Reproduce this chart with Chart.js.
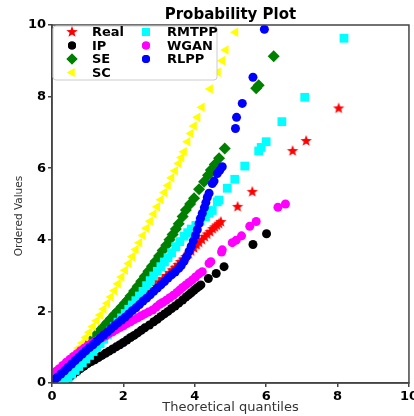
<!DOCTYPE html>
<html>
<head>
<meta charset="utf-8">
<script src="https://cdn.jsdelivr.net/npm/chart.js@4.4.1/dist/chart.umd.min.js"></script>
<style>
  html, body { margin: 0; padding: 0; background: #fff; overflow: hidden; width: 414px; height: 416px; }
  canvas { display: block; }
</style>
</head>
<body>
<canvas id="qq" width="420" height="416"></canvas>
<script>
/* Punkty wykresu kwantyl-kwantyl: [kwantyl teoretyczny, wartość uporządkowana] */
var realPts = [[0.05,0.03],[0.2,0.15],[0.35,0.3],[0.5,0.45],[0.65,0.6],[0.8,0.75],[0.95,0.89],[1.1,1.02],[1.25,1.16],[1.4,1.3],[1.55,1.45],[1.7,1.6],[1.85,1.74],[2.0,1.88],[2.15,2.02],[2.3,2.15],[2.45,2.3],[2.6,2.45],[2.75,2.58],[2.9,2.72],[3.0,2.82],[3.1,2.9],[3.2,2.99],[3.29,3.07],[3.37,3.15],[3.45,3.22],[3.53,3.3],[3.6,3.38],[3.68,3.45],[3.75,3.52],[3.83,3.6],[3.9,3.68],[3.98,3.77],[4.05,3.85],[4.12,3.92],[4.2,4.0],[4.28,4.08],[4.35,4.15],[4.43,4.22],[4.5,4.3],[4.56,4.35],[4.62,4.4],[4.68,4.45],[4.73,4.5],[5.20,4.92],[5.61,5.34],[6.74,6.48],[7.12,6.76],[8.03,7.67]];

var ipPts = [[0.25,0.0],[0.32,0.04],[0.4,0.1],[0.5,0.17],[0.6,0.25],[0.7,0.32],[0.8,0.4],[0.9,0.47],[1.0,0.54],[1.1,0.6],[1.2,0.65],[1.3,0.71],[1.4,0.77],[1.5,0.83],[1.6,0.89],[1.7,0.95],[1.8,1.01],[1.9,1.07],[2.0,1.13],[2.1,1.2],[2.2,1.27],[2.3,1.33],[2.4,1.4],[2.5,1.47],[2.6,1.54],[2.73,1.62],[2.85,1.71],[2.95,1.78],[3.05,1.86],[3.15,1.93],[3.25,2.0],[3.35,2.08],[3.45,2.15],[3.55,2.23],[3.66,2.32],[3.75,2.4],[3.83,2.46],[3.9,2.52],[3.98,2.59],[4.05,2.65],[4.12,2.7],[4.17,2.74],[4.38,2.92],[4.60,3.06],[4.82,3.25],[5.63,3.87],[6.01,4.17]];

var sePts = [[0.05,0.05],[0.15,0.15],[0.25,0.26],[0.35,0.37],[0.45,0.48],[0.55,0.58],[0.65,0.69],[0.75,0.8],[0.85,0.91],[0.95,1.02],[1.05,1.13],[1.15,1.24],[1.25,1.36],[1.35,1.47],[1.45,1.58],[1.55,1.69],[1.65,1.8],[1.75,1.91],[1.85,2.02],[1.95,2.13],[2.05,2.24],[2.12,2.32],[2.2,2.43],[2.3,2.57],[2.4,2.7],[2.5,2.84],[2.6,2.98],[2.7,3.12],[2.8,3.26],[2.9,3.4],[3.0,3.55],[3.1,3.7],[3.2,3.85],[3.29,4.0],[3.38,4.15],[3.47,4.3],[3.55,4.45],[3.66,4.65],[3.75,4.83],[3.87,5.0],[3.98,5.16],[4.12,5.41],[4.26,5.62],[4.37,5.8],[4.45,5.95],[4.56,6.1],[4.68,6.28],[4.84,6.55],[5.72,8.23],[5.79,8.32],[6.21,9.13]];

var scPts = [[0.05,0.05],[0.15,0.17],[0.25,0.29],[0.35,0.42],[0.45,0.55],[0.55,0.69],[0.65,0.83],[0.75,0.98],[0.85,1.12],[0.95,1.27],[1.05,1.42],[1.15,1.58],[1.25,1.74],[1.35,1.9],[1.45,2.07],[1.55,2.23],[1.65,2.4],[1.75,2.58],[1.85,2.77],[1.95,2.96],[2.05,3.15],[2.15,3.34],[2.25,3.53],[2.35,3.73],[2.45,3.92],[2.55,4.12],[2.65,4.32],[2.75,4.52],[2.85,4.72],[2.95,4.92],[3.05,5.12],[3.15,5.32],[3.25,5.52],[3.35,5.73],[3.45,5.93],[3.55,6.13],[3.63,6.3],[3.70,6.46],[3.80,6.74],[3.89,6.97],[3.98,7.18],[4.08,7.42],[4.20,7.70],[4.43,8.21],[4.65,8.68],[4.77,9.0],[4.87,9.30],[5.14,9.80]];

var rmtppPts = [[0.28,0.0],[0.35,0.06],[0.45,0.15],[0.55,0.25],[0.65,0.35],[0.75,0.46],[0.85,0.56],[0.95,0.67],[1.05,0.77],[1.15,0.88],[1.25,0.99],[1.35,1.1],[1.45,1.22],[1.55,1.34],[1.65,1.46],[1.75,1.58],[1.85,1.7],[1.95,1.82],[2.05,1.94],[2.15,2.06],[2.25,2.18],[2.35,2.3],[2.45,2.43],[2.55,2.56],[2.65,2.72],[2.75,2.86],[2.85,2.99],[2.95,3.12],[3.05,3.25],[3.15,3.38],[3.25,3.5],[3.35,3.64],[3.47,3.81],[3.58,3.95],[3.7,4.1],[3.8,4.2],[3.9,4.3],[4.03,4.4],[4.15,4.52],[4.3,4.64],[4.40,4.74],[4.49,4.82],[4.63,5.06],[4.68,5.11],[4.91,5.44],[5.12,5.69],[5.40,6.06],[5.79,6.48],[5.86,6.58],[6.0,6.74],[6.44,7.30],[7.08,7.98],[8.18,9.63]];

var wganPts = [[0.0,0.15],[0.05,0.25],[0.12,0.33],[0.2,0.4],[0.3,0.49],[0.4,0.58],[0.5,0.66],[0.6,0.74],[0.7,0.82],[0.8,0.9],[0.9,0.97],[1.0,1.04],[1.1,1.1],[1.2,1.16],[1.3,1.21],[1.4,1.27],[1.5,1.32],[1.6,1.38],[1.7,1.43],[1.8,1.49],[1.9,1.55],[2.0,1.6],[2.1,1.66],[2.2,1.71],[2.3,1.77],[2.4,1.82],[2.5,1.88],[2.6,1.93],[2.7,1.98],[2.82,2.04],[2.92,2.12],[3.02,2.2],[3.1,2.25],[3.2,2.31],[3.3,2.38],[3.4,2.45],[3.5,2.53],[3.58,2.6],[3.66,2.67],[3.75,2.74],[3.84,2.81],[3.93,2.88],[4.02,2.96],[4.12,3.05],[4.21,3.11],[4.40,3.34],[4.45,3.39],[4.75,3.66],[4.77,3.72],[5.05,3.92],[5.16,3.99],[5.31,4.11],[5.54,4.38],[5.72,4.51],[6.33,4.91],[6.54,5.0]];

var rlppPts = [[0.0,0.05],[0.08,0.1],[0.15,0.16],[0.25,0.25],[0.35,0.34],[0.45,0.44],[0.55,0.53],[0.65,0.63],[0.75,0.72],[0.85,0.81],[0.95,0.9],[1.05,0.99],[1.15,1.07],[1.25,1.16],[1.35,1.25],[1.45,1.34],[1.55,1.42],[1.65,1.51],[1.75,1.6],[1.85,1.68],[1.95,1.76],[2.05,1.84],[2.15,1.93],[2.25,2.02],[2.35,2.1],[2.45,2.19],[2.55,2.29],[2.65,2.37],[2.75,2.46],[2.85,2.56],[2.95,2.65],[3.05,2.74],[3.15,2.83],[3.25,2.93],[3.35,3.02],[3.45,3.1],[3.55,3.2],[3.62,3.28],[3.7,3.4],[3.77,3.53],[3.84,3.68],[3.9,3.82],[3.96,3.97],[4.02,4.12],[4.07,4.28],[4.12,4.45],[4.16,4.6],[4.21,4.74],[4.27,4.9],[4.31,5.04],[4.35,5.18],[4.40,5.3],[4.49,5.57],[4.54,5.64],[4.63,5.85],[4.7,5.94],[4.77,6.04],[5.14,7.11],[5.17,7.42],[5.33,7.81],[5.63,8.54],[5.95,9.88]];

var axisTicks = [0, 2, 4, 6, 8, 10];
var titleText = 'Probability Plot';
var xTitle = 'Theoretical quantiles';
var yTitle = 'Ordered Values';

/* Gwiazdka jak w matplotlib (wypełniona, 5 ramion) */
var makeStar = function (color, r) {
    var c = document.createElement('canvas');
    c.width = 2 * r + 2;
    c.height = 2 * r + 2;
    var g = c.getContext('2d');
    g.fillStyle = color;
    g.beginPath();
    for (var i = 0; i < 10; i++) {
        var rad = i % 2 === 0 ? r : r * 0.42;
        var a = -Math.PI / 2 + i * Math.PI / 5;
        var px = r + 1 + rad * Math.cos(a);
        var py = r + 1 + rad * Math.sin(a);
        if (i === 0) g.moveTo(px, py); else g.lineTo(px, py);
    }
    g.closePath();
    g.fill();
    return c;
};
var starImg = makeStar('#ff0000', 6);

var toXY = function (arr) {
    return arr.map(function (p) { return { x: p[0], y: p[1] }; });
};

var series = [
    { label: 'Real',  data: realPts,  color: '#ff0000', style: starImg,   radius: 5.5, rotation: 0,   order: 6 },
    { label: 'IP',    data: ipPts,    color: '#000000', style: 'circle',  radius: 4.5, rotation: 0,   order: 5 },
    { label: 'SE',    data: sePts,    color: '#008000', style: 'rectRot', radius: 6,   rotation: 0,   order: 4 },
    { label: 'SC',    data: scPts,    color: '#ffff00', style: 'triangle',radius: 5.5, rotation: -90, order: 3 },
    { label: 'RMTPP', data: rmtppPts, color: '#00ffff', style: 'rect',    radius: 6.2, rotation: 0,   order: 2 },
    { label: 'WGAN',  data: wganPts,  color: '#ff00ff', style: 'circle',  radius: 4.5, rotation: 0,   order: 1 },
    { label: 'RLPP',  data: rlppPts,  color: '#0000ff', style: 'circle',  radius: 4.5, rotation: 0,   order: 0 }
];

/* Ramka, tytuły osi, tytuł i legenda rysowane ręcznie */
var decorations = {
    id: 'decorations',
    afterDraw: function (chart) {
        var ctx = chart.ctx;
        var a = chart.chartArea;
        ctx.save();
        ctx.strokeStyle = '#444';
        ctx.lineWidth = 1.5;
        ctx.strokeRect(a.left, a.top, a.right - a.left, a.bottom - a.top);

        ctx.fillStyle = '#000';
        ctx.font = 'bold 15px "DejaVu Sans"';
        ctx.textAlign = 'center';
        ctx.textBaseline = 'middle';
        ctx.fillText(titleText, (a.left + a.right) / 2, 15);

        ctx.fillStyle = '#333';
        ctx.font = '13px "DejaVu Sans"';
        ctx.fillText(xTitle, (a.left + a.right) / 2, 408);

        ctx.save();
        ctx.translate(19, 216);
        ctx.rotate(-Math.PI / 2);
        ctx.font = '10.5px "DejaVu Sans"';
        ctx.fillText(yTitle, 0, 0);
        ctx.restore();

        // legenda
        var lx = a.left + 1, ly = a.top + 1, lw = 164, lh = 54;
        ctx.fillStyle = 'rgba(255,255,255,0.85)';
        ctx.strokeStyle = '#cccccc';
        ctx.lineWidth = 1;
        ctx.beginPath();
        ctx.roundRect(lx, ly, lw, lh, 3);
        ctx.fill();
        ctx.stroke();

        var rows = [32, 45.5, 59, 72.5];
        var slots = [[0, 0], [0, 1], [0, 2], [0, 3], [1, 0], [1, 1], [1, 2]];
        ctx.font = 'bold 13px "DejaVu Sans"';
        ctx.textAlign = 'left';
        series.forEach(function (s, i) {
            var col = slots[i][0], row = slots[i][1];
            var mx = col === 0 ? 72 : 146;
            var tx = col === 0 ? 92 : 167;
            var my = rows[row];
            if (s.style === starImg) {
                ctx.drawImage(starImg, mx - starImg.width / 2, my - starImg.height / 2);
            } else {
                ctx.fillStyle = s.color;
                Chart.helpers.drawPoint(ctx, { pointStyle: s.style, radius: s.radius - 0.5, rotation: s.rotation, borderWidth: 0 }, mx, my);
                ctx.fill();
            }
            ctx.fillStyle = '#000';
            ctx.fillText(s.label, tx, my + 1);
        });
        ctx.restore();
    }
};

var axisCommon = function () {
    return {
        type: 'linear',
        min: 0,
        max: 10,
        ticks: {
            stepSize: 2,
            color: '#000',
            font: { family: 'DejaVu Sans', size: 13, weight: 'bold' },
            padding: 2,
            callback: function (v) { return axisTicks.indexOf(v) >= 0 ? String(v) : ''; }
        },
        grid: { drawOnChartArea: false, drawTicks: true, tickLength: 4, color: '#444', lineWidth: 1.5 },
        border: { display: true, color: '#444', width: 1.5 }
    };
};

var xAxis = axisCommon();
xAxis.afterFit = function (scale) { scale.height = 33; };
var yAxis = axisCommon();
yAxis.afterFit = function (scale) { scale.width = 52; };

var ctxQQ = document.getElementById('qq');
var chartQQ = new Chart(ctxQQ, {
    type: 'scatter',
    data: {
        datasets: series.map(function (s) {
            return {
                label: s.label,
                data: toXY(s.data),
                pointStyle: s.style,
                pointRadius: s.radius,
                pointRotation: s.rotation,
                pointBorderWidth: 0,
                backgroundColor: s.color,
                borderColor: s.color,
                order: s.order
            };
        })
    },
    options: {
        responsive: false,
        animation: false,
        devicePixelRatio: 1,
        layout: { padding: { top: 25, right: 9, left: 0, bottom: 0 } },
        plugins: { legend: { display: false }, title: { display: false }, tooltip: { enabled: false } },
        scales: { x: xAxis, y: yAxis }
    },
    plugins: [decorations]
});
</script>
</body>
</html>
